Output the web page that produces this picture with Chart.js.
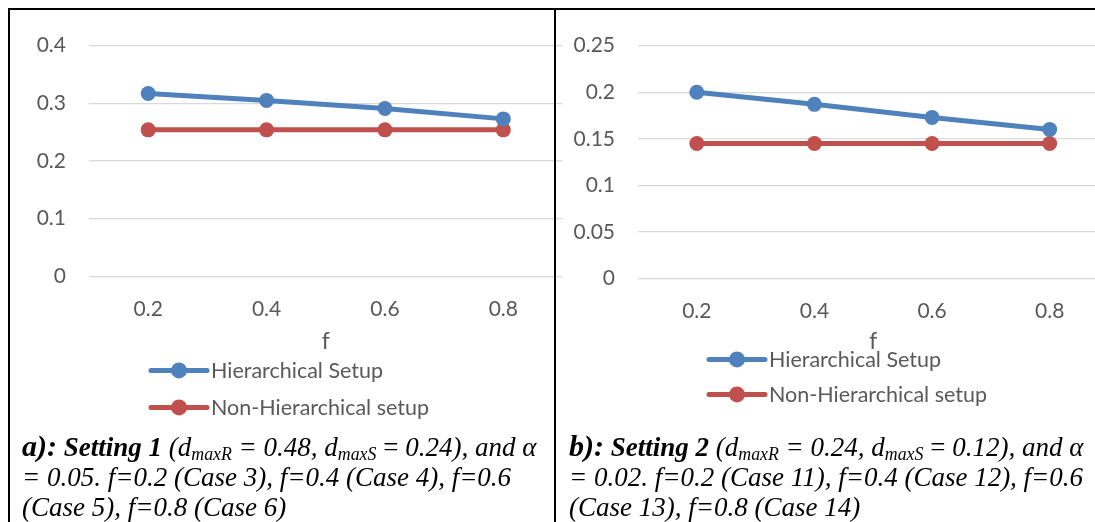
<!DOCTYPE html>
<html>
<head>
<meta charset="utf-8">
<script src="https://cdn.jsdelivr.net/npm/chart.js@4/dist/chart.umd.min.js"></script>
<style>
  html, body { margin: 0; padding: 0; background: #fff; width: 1095px; height: 522px; overflow: hidden; position: relative; }
  .frame { position: absolute; background: #000; }
  .panel { position: absolute; }
  .cap { position: absolute; font-family: "Liberation Serif", "Times New Roman", serif; font-size: 27px; line-height: 30px; color: #000; white-space: nowrap; font-style: italic; }
  .cap .lead { font-weight: bold; font-size: 30px; line-height: 0; }
  .cap .set { font-weight: bold; }
  .cap sub { font-size: 0.66em; vertical-align: -0.22em; line-height: 0; }
  .cap .up { font-style: normal; }
</style>
</head>
<body>
<div class="panel" style="left:10px; top:10px; width:560px; height:420px;"><canvas id="chartA"></canvas></div>
<div class="panel" style="left:556px; top:10px; width:560px; height:420px;"><canvas id="chartB"></canvas></div>

<div class="frame" style="left:8px; top:8px; width:1087px; height:2px;"></div>
<div class="frame" style="left:8px; top:8px; width:2px; height:514px;"></div>
<div class="frame" style="left:554px; top:8px; width:2px; height:514px;"></div>

<div class="cap" style="left:22px; top:432px;">
  <span class="lead">a):</span> <span class="set">Setting 1</span> (d<sub>maxR</sub> = 0.48, d<sub>maxS</sub> <span class="up">=</span> 0.24), and α<br>
  = 0.05. f=0.2 (Case 3), f=0.4 (Case 4), f=0.6<br>
  (Case 5), f=0.8 (Case 6)
</div>
<div class="cap" style="left:569px; top:432px;">
  <span class="lead">b):</span> <span class="set">Setting 2</span> (d<sub>maxR</sub> = 0.24, d<sub>maxS</sub> <span class="up">=</span> 0.12), and α<br>
  = 0.02. f=0.2 (Case 11), f=0.4 (Case 12), f=0.6<br>
  (Case 13), f=0.8 (Case 14)
</div>

<script>
// f values on the x axis
const fValues = ['0.2', '0.4', '0.6', '0.8'];

// Setting 1
const hierA = [0.317, 0.305, 0.291, 0.273];
const nonHierA = [0.254, 0.254, 0.254, 0.254];
const yTicksA = ['0', '0.1', '0.2', '0.3', '0.4'];

// Setting 2
const hierB = [0.200, 0.187, 0.173, 0.160];
const nonHierB = [0.145, 0.145, 0.145, 0.145];
const yTicksB = ['0', '0.05', '0.1', '0.15', '0.2', '0.25'];

const seriesNames = ['Hierarchical Setup', 'Non-Hierarchical setup'];
const BLUE = '#4F81BD';
const RED = '#C0504D';
const TEXT = '#595959';
const FONT = 'Lato, "Open Sans", sans-serif';

// Excel-style legend: a short line with a round marker, stacked vertically
const lineLegend = {
  id: 'lineLegend',
  afterDraw(chart, args, opts) {
    const ctx = chart.ctx;
    const a = chart.chartArea;
    ctx.save();
    chart.data.datasets.forEach((ds, i) => {
      const x0 = a.left + opts.dx;
      const y = a.bottom + opts.dy + i * opts.gap;
      ctx.strokeStyle = ds.borderColor;
      ctx.lineWidth = 5;
      ctx.lineCap = 'round';
      ctx.beginPath();
      ctx.moveTo(x0, y);
      ctx.lineTo(x0 + 56, y);
      ctx.stroke();
      ctx.fillStyle = ds.backgroundColor;
      ctx.beginPath();
      ctx.arc(x0 + 28, y, 8, 0, Math.PI * 2);
      ctx.fill();
      ctx.fillStyle = TEXT;
      ctx.font = '21.5px ' + FONT;
      ctx.textBaseline = 'middle';
      ctx.textAlign = 'left';
      ctx.fillText(ds.label, x0 + 60, y + 1);
    });
    ctx.restore();
  }
};

function makeChart(id, hier, nonHier, yTicks, yMax, yStep, yWidth, cfg) {
  return new Chart(document.getElementById(id), {
    type: 'line',
    data: {
      labels: fValues,
      datasets: [
        { label: seriesNames[0], data: hier, borderColor: BLUE, backgroundColor: BLUE,
          borderWidth: 5, pointRadius: 7.5, pointHoverRadius: 7.5, pointBorderWidth: 0, tension: 0 },
        { label: seriesNames[1], data: nonHier, borderColor: RED, backgroundColor: RED,
          borderWidth: 5, pointRadius: 7.5, pointHoverRadius: 7.5, pointBorderWidth: 0, tension: 0 }
      ]
    },
    options: {
      responsive: true,
      maintainAspectRatio: false,
      animation: false,
      layout: { padding: { top: cfg.padT, right: 5, bottom: cfg.padB, left: 0 } },
      plugins: { legend: { display: false }, tooltip: { enabled: false }, lineLegend: cfg },
      scales: {
        x: {
          offset: true,
          grid: { display: false, drawTicks: false },
          border: { display: false },
          ticks: { color: TEXT, font: { family: FONT, size: 21 }, padding: cfg.xPad, maxRotation: 0 },
          title: { display: true, text: 'f', color: TEXT, font: { family: FONT, size: 23 }, padding: { top: 0, bottom: 0 } },
          afterFit(scale) { scale.height = cfg.axisH; }
        },
        y: {
          min: 0, max: yMax,
          grid: { color: '#D9D9D9', lineWidth: 1.3, drawTicks: false },
          border: { display: false },
          ticks: { stepSize: yStep, color: TEXT, font: { family: FONT, size: 21 }, padding: 23,
                   callback: (v, i) => yTicks[i] },
          afterFit(scale) { scale.width = yWidth; }
        }
      }
    },
    plugins: [lineLegend]
  });
}

makeChart('chartA', hierA, nonHierA, yTicksA, 0.4, 0.1, 79,
  { dx: 62, dy: 94, gap: 37, axisH: 78.8, padT: 30, padB: 74.8, xPad: 20 });
makeChart('chartB', hierB, nonHierB, yTicksB, 0.25, 0.05, 82,
  { dx: 71, dy: 80.7, gap: 35, axisH: 76.5, padT: 30, padB: 74.8, xPad: 20 });
</script>
</body>
</html>
